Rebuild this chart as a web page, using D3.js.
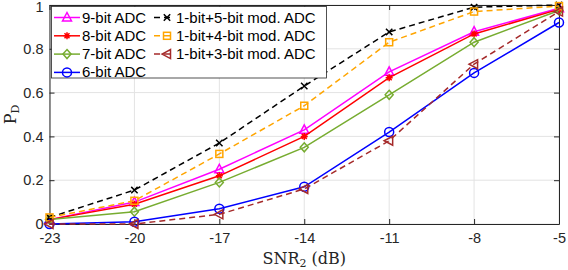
<!DOCTYPE html>
<html>
<head>
<meta charset="utf-8">
<script src="https://cdn.jsdelivr.net/npm/d3@7"></script>
<style>
  body { margin: 0; background: #fff; }
  svg { display: block; }
</style>
</head>
<body>
<div id="chart"></div>
<script>
// datos

const snr = [-23, -20, -17, -14, -11, -8, -5];
const yTicks = [0, 0.2, 0.4, 0.6, 0.8, 1];

const pd9bit = [0.02, 0.10, 0.25, 0.43, 0.695, 0.878, 0.985];
const pd8bit = [0.02, 0.09, 0.22, 0.40, 0.668, 0.868, 0.98];
const pd7bit = [0.02, 0.056, 0.19, 0.35, 0.59, 0.83, 0.975];
const pd6bit = [0.0, 0.01, 0.07, 0.17, 0.42, 0.69, 0.92];
const pdMod5 = [0.03, 0.155, 0.37, 0.63, 0.877, 0.99, 1.0];
const pdMod4 = [0.03, 0.106, 0.32, 0.54, 0.83, 0.97, 0.995];
const pdMod3 = [0.0, 0.0, 0.044, 0.16, 0.38, 0.73, 0.97];

const series = [
    { name: "9-bit ADC", values: pd9bit, color: "#ff00ff", marker: "tri", dash: null },
    { name: "8-bit ADC", values: pd8bit, color: "#ff0000", marker: "star", dash: null },
    { name: "7-bit ADC", values: pd7bit, color: "#77ac30", marker: "diamond", dash: null },
    { name: "6-bit ADC", values: pd6bit, color: "#0000ff", marker: "circle", dash: null },
    { name: "1-bit+5-bit mod. ADC", values: pdMod5, color: "#000000", marker: "x", dash: "6,4" },
    { name: "1-bit+4-bit mod. ADC", values: pdMod4, color: "#ffa500", marker: "square", dash: "6,4" },
    { name: "1-bit+3-bit mod. ADC", values: pdMod3, color: "#a52a2a", marker: "triLeft", dash: "6,4" },
];

const WIDTH = 568;
const HEIGHT = 270;
const MARGIN = { top: 5, bottom: 46, left: 49.5, right: 9 };

const svg = d3.select("#chart")
    .append("svg")
    .attr("width", WIDTH)
    .attr("height", HEIGHT);

const xScale = d3.scaleLinear()
    .domain([-23, -5])
    .range([MARGIN.left, WIDTH - MARGIN.right]);

const yScale = d3.scaleLinear()
    .domain([0, 1])
    .range([HEIGHT - MARGIN.bottom, MARGIN.top]);

const AXIS_COLOR = "#262626";
const FONT = "'Liberation Sans', Arial, Helvetica, sans-serif";

// grilla
svg.append("g")
    .selectAll("line")
    .data(snr)
    .join("line")
    .attr("x1", d => xScale(d)).attr("x2", d => xScale(d))
    .attr("y1", yScale(0)).attr("y2", yScale(1))
    .attr("stroke", "#e3e3e3").attr("stroke-width", 1);

svg.append("g")
    .selectAll("line")
    .data(yTicks)
    .join("line")
    .attr("y1", d => yScale(d)).attr("y2", d => yScale(d))
    .attr("x1", xScale(-23)).attr("x2", xScale(-5))
    .attr("stroke", "#e3e3e3").attr("stroke-width", 1);

// ejes
const ejeX = d3.axisBottom(xScale).tickValues(snr).tickSizeInner(-5).tickSizeOuter(0).tickPadding(9)
    .tickFormat(d => String(d));
const ejeY = d3.axisLeft(yScale).tickValues(yTicks).tickSizeInner(-5).tickSizeOuter(0).tickPadding(6)
    .tickFormat(d => d === 0 ? "0" : d === 1 ? "1" : d3.format(".1f")(d));

svg.append("g")
    .attr("transform", `translate(0, ${yScale(0)})`)
    .call(ejeX);
const gy = svg.append("g")
    .attr("transform", `translate(${xScale(-23)}, 0)`)
    .call(ejeY);

// eje derecho y superior (box on)
svg.append("g")
    .attr("transform", `translate(${xScale(-5)}, 0)`)
    .call(d3.axisRight(yScale).tickValues(yTicks).tickSizeInner(-5).tickSizeOuter(0).tickFormat(""));
svg.append("g")
    .attr("transform", `translate(0, ${yScale(1)})`)
    .call(d3.axisTop(xScale).tickValues(snr).tickSizeInner(-5).tickSizeOuter(0).tickFormat(""));

svg.selectAll(".domain, .tick line").attr("stroke", AXIS_COLOR).attr("stroke-width", 1);
svg.selectAll(".tick text")
    .attr("fill", AXIS_COLOR)
    .attr("font-size", 14.5)
    .attr("font-family", FONT);

// el "1" arriba queda pegado al borde, lo bajamos un poco
gy.selectAll(".tick text").filter(d => d === 1).attr("dy", "0.45em");

// titulos de ejes
svg.append("text")
    .attr("x", (xScale(-23) + xScale(-5)) / 2)
    .attr("y", 264)
    .attr("text-anchor", "middle")
    .attr("font-family", "'DejaVu Serif', 'Liberation Serif', serif")
    .attr("font-size", 16)
    .attr("fill", AXIS_COLOR)
    .html('SNR<tspan font-size="11" dy="3">2</tspan><tspan dy="-3"> (dB)</tspan>');

svg.append("text")
    .attr("transform", `translate(15.5, ${yScale(0.5)}) rotate(-90)`)
    .attr("text-anchor", "middle")
    .attr("font-family", "'DejaVu Serif', 'Liberation Serif', serif")
    .attr("font-size", 16)
    .attr("fill", AXIS_COLOR)
    .html('P<tspan font-size="11" dy="3">D</tspan>');

// marcadores
function drawMarker(g, type, color, x, y) {
    const s = 4.5;
    if (type === "tri") {
        g.append("path").attr("d", `M${x},${y - s - 0.5}L${x + s},${y + s - 1}L${x - s},${y + s - 1}Z`)
            .attr("fill", "none").attr("stroke", color).attr("stroke-width", 1.5);
    } else if (type === "triLeft") {
        g.append("path").attr("d", `M${x - s - 0.5},${y}L${x + s - 1},${y - s}L${x + s - 1},${y + s}Z`)
            .attr("fill", "none").attr("stroke", color).attr("stroke-width", 1.5);
    } else if (type === "diamond") {
        g.append("path").attr("d", `M${x},${y - s}L${x + s - 0.5},${y}L${x},${y + s}L${x - s + 0.5},${y}Z`)
            .attr("fill", "none").attr("stroke", color).attr("stroke-width", 1.5);
    } else if (type === "circle") {
        g.append("circle").attr("cx", x).attr("cy", y).attr("r", 4.5)
            .attr("fill", "none").attr("stroke", color).attr("stroke-width", 1.5);
    } else if (type === "square") {
        g.append("rect").attr("x", x - 3.5).attr("y", y - 3.5).attr("width", 7).attr("height", 7)
            .attr("fill", "none").attr("stroke", color).attr("stroke-width", 1.5);
    } else if (type === "x") {
        const a = 3.2;
        g.append("path").attr("d", `M${x - a},${y - a}L${x + a},${y + a}M${x - a},${y + a}L${x + a},${y - a}`)
            .attr("stroke", color).attr("stroke-width", 1.5);
    } else if (type === "star") {
        const a = 3.5, b = 2.5;
        g.append("path")
            .attr("d", `M${x - a},${y}L${x + a},${y}M${x},${y - a}L${x},${y + a}M${x - b},${y - b}L${x + b},${y + b}M${x - b},${y + b}L${x + b},${y - b}`)
            .attr("stroke", color).attr("stroke-width", 1.5);
    }
}

const linea = d3.line()
    .x((d, i) => xScale(snr[i]))
    .y(d => yScale(d));

series.forEach(s => {
    const g = svg.append("g").attr("class", "serie");
    g.append("path")
        .attr("d", linea(s.values))
        .attr("fill", "none")
        .attr("stroke", s.color)
        .attr("stroke-width", 1.5)
        .attr("stroke-dasharray", s.dash);
    s.values.forEach((v, i) => drawMarker(g, s.marker, s.color, xScale(snr[i]), yScale(v)));
});

// leyenda
const leyenda = svg.append("g").attr("class", "leyenda");
leyenda.append("rect")
    .attr("x", 51.5).attr("y", 6.5)
    .attr("width", 275).attr("height", 71.5)
    .attr("fill", "#fff")
    .attr("stroke", AXIS_COLOR)
    .attr("stroke-width", 0.8);

series.forEach((s, i) => {
    const col = i < 4 ? 0 : 1;
    const row = i < 4 ? i : i - 4;
    const x0 = col === 0 ? 54 : 154;
    const len = col === 0 ? 26 : 20;
    const yy = 17.5 + row * 18.3;
    leyenda.append("line")
        .attr("x1", x0).attr("x2", x0 + len)
        .attr("y1", yy).attr("y2", yy)
        .attr("stroke", s.color).attr("stroke-width", 1.5)
        .attr("stroke-dasharray", s.dash ? "6,4" : null);
    drawMarker(leyenda, s.marker, s.color, x0 + len / 2 + (col === 0 ? 0 : 3), yy);
    leyenda.append("text")
        .attr("x", col === 0 ? 82 : 176)
        .attr("y", yy + 5)
        .attr("font-family", FONT)
        .attr("font-size", 15)
        .attr("fill", "#000")
        .text(s.name);
});
</script>
</body>
</html>
